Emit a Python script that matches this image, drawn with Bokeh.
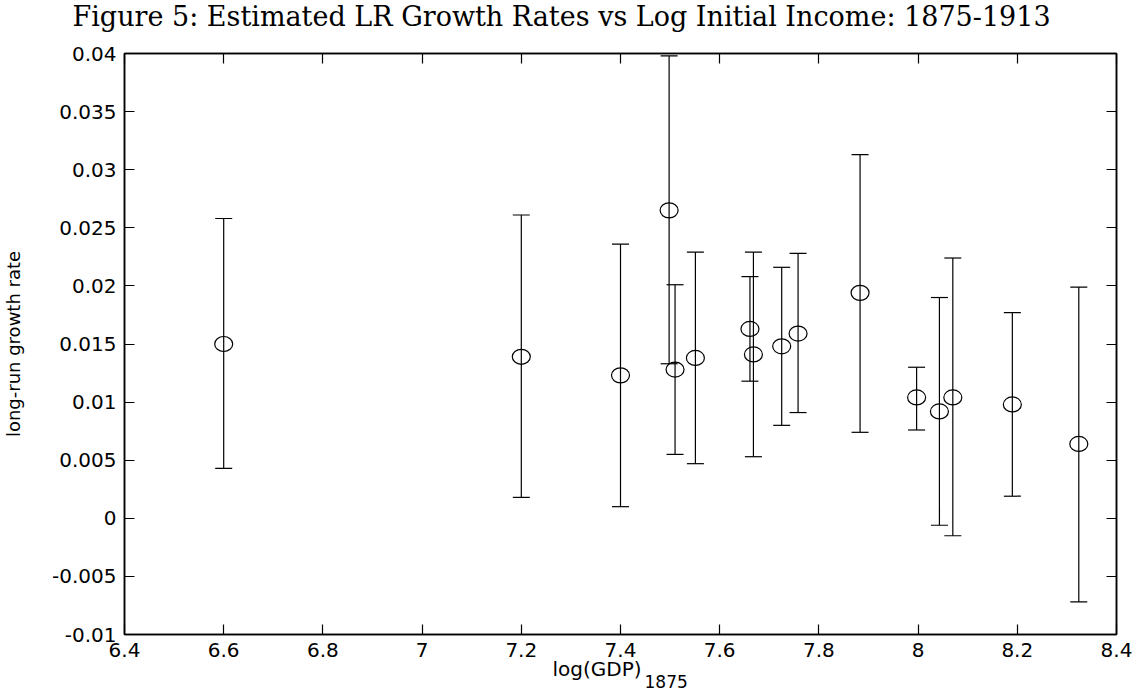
from bokeh.plotting import figure
from bokeh.models import (ColumnDataSource, Whisker, TeeHead, LinearAxis, FixedTicker,
                          CustomJSTickFormatter, CustomLabelingPolicy, Title, Range1d)
from bokeh.embed import file_html
from bokeh.resources import INLINE

# ---- data ----
log_gdp = [6.600, 7.200, 7.400, 7.498, 7.510, 7.551, 7.661, 7.668, 7.725, 7.758,
           7.883, 7.997, 8.043, 8.070, 8.190, 8.324]
growth = [0.0150, 0.0139, 0.0123, 0.0265, 0.0128, 0.0138, 0.0163, 0.0141, 0.0148, 0.0159,
          0.0194, 0.0104, 0.0092, 0.0104, 0.0098, 0.0064]
upper = [0.0258, 0.0261, 0.0236, 0.0398, 0.0201, 0.0229, 0.0208, 0.0229, 0.0216, 0.0228,
         0.0313, 0.0130, 0.0190, 0.0224, 0.0177, 0.0199]
lower = [0.0043, 0.0018, 0.0010, 0.0133, 0.0055, 0.0047, 0.0118, 0.0053, 0.0080, 0.0091,
         0.0074, 0.0076, -0.0006, -0.0015, 0.0019, -0.0072]

x_ticks = [6.4, 6.6, 6.8, 7.0, 7.2, 7.4, 7.6, 7.8, 8.0, 8.2, 8.4]
y_ticks = [-0.01, -0.005, 0, 0.005, 0.01, 0.015, 0.02, 0.025, 0.03, 0.035, 0.04]

title_text = "Figure 5: Estimated LR Growth Rates vs Log Initial Income: 1875-1913"
y_label = "long-run growth rate"
x_label = "log(GDP)"
x_label_sub = "1875"

W, H = 1133, 696
FL, FR, FT, FB = 122, 17, 52, 62

p = figure(width=W, height=H, output_backend="svg", toolbar_location=None,
           x_range=Range1d(6.4, 8.4), y_range=Range1d(-0.01, 0.04),
           min_border_left=FL, min_border_right=FR, min_border_top=FT, min_border_bottom=FB,
           x_axis_location=None, y_axis_location=None)
p.grid.visible = False
p.outline_line_color = "black"
p.outline_line_width = 1.5
p.background_fill_color = "white"
p.border_fill_color = "white"
p.title.text = ""

fmt = CustomJSTickFormatter(code="return String(Number(tick.toPrecision(10)));")
no_labels = CustomLabelingPolicy(code="return new Set()")
tick_font = "DejaVu Sans"

def make_axis(ticks, show_labels):
    ax = LinearAxis(ticker=FixedTicker(ticks=ticks), formatter=fmt)
    ax.axis_line_color = "black"
    ax.axis_line_width = 1.5
    ax.major_tick_in = 10
    ax.major_tick_out = 0
    ax.major_tick_line_color = "black"
    ax.major_tick_line_width = 1.2
    ax.minor_tick_line_color = None
    ax.major_label_text_font = tick_font
    ax.major_label_text_color = "black"
    if show_labels:
        ax.major_label_text_font_size = "20px"
        ax.major_label_standoff = 8
    else:
        ax.major_label_policy = no_labels
        ax.major_label_text_font_size = "1px"
        ax.major_label_standoff = 0
    return ax

# axes: full box with inward ticks on all four sides
p.add_layout(make_axis(x_ticks, True), "below")
yl = make_axis(y_ticks, True)
yl.axis_label = y_label
yl.axis_label_text_font = tick_font
yl.axis_label_text_font_size = "18px"
yl.axis_label_text_font_style = "normal"
yl.axis_label_text_color = "black"
yl.axis_label_standoff = 25
p.add_layout(yl, "left")
p.add_layout(make_axis(x_ticks, False), "above")
p.add_layout(make_axis(y_ticks, False), "right")

# gap above the top axis, then the serif caption
gap = Title(text=" ", text_font=tick_font, text_font_size="10px", standoff=7)
p.add_layout(gap, "above")
cap = Title(text=title_text, text_font="DejaVu Serif", text_font_size="27px",
            text_font_style="normal", text_color="black", align="left",
            vertical_align="bottom", offset=-52, standoff=-4)
p.add_layout(cap, "above")

# x label and its subscript
lab = Title(text=x_label, text_font=tick_font, text_font_size="20px",
            text_font_style="normal", text_color="black", align="left",
            offset=428, standoff=-9)
p.add_layout(lab, "below")
sub = Title(text=x_label_sub, text_font=tick_font, text_font_size="17px",
            text_font_style="normal", text_color="black", align="left",
            offset=520, standoff=-7)
p.add_layout(sub, "below")

src = ColumnDataSource(dict(x=log_gdp, y=growth, upper=upper, lower=lower))

wh = Whisker(source=src, base="x", upper="upper", lower="lower", dimension="height",
             line_color="black", line_width=1.2,
             upper_head=TeeHead(size=17, line_color="black", line_width=1.2),
             lower_head=TeeHead(size=17, line_color="black", line_width=1.2))
p.add_layout(wh)

p.ellipse(x="x", y="y", width=18, height=15, width_units="screen", height_units="screen",
          source=src, fill_color=None, line_color="black", line_width=1.2)

open("out.html", "w").write(file_html(p, INLINE))
